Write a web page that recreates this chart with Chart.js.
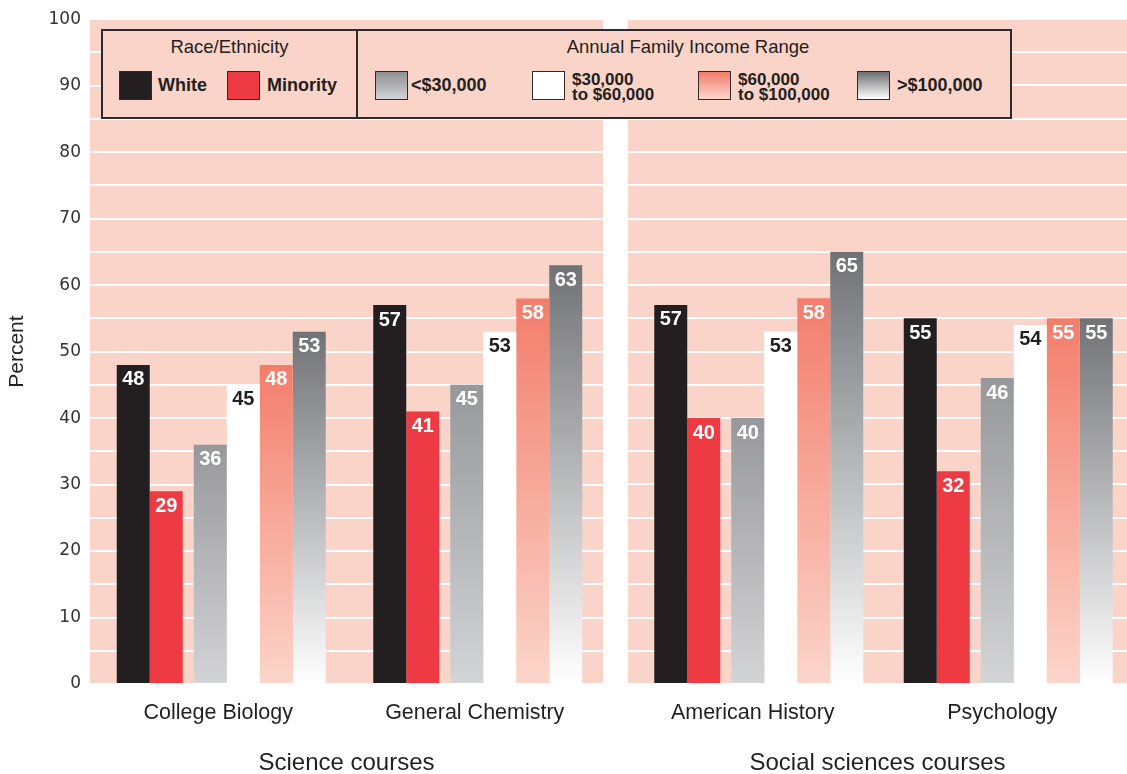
<!DOCTYPE html>
<html>
<head>
<meta charset="utf-8">
<title>Course grades by race and family income</title>
<script src="https://cdn.jsdelivr.net/npm/chart.js"></script>
<style>
  html, body { margin: 0; padding: 0; background: #fff; }
  body { position: relative; width: 1127px; height: 774px; overflow: hidden;
         font-family: "Liberation Sans", Arial, Helvetica, sans-serif; color: #231f20; }
  canvas { position: absolute; top: 0; }
  #left { left: 0; }
  #right { left: 628px; }
  #legend { position: absolute; left: 101px; top: 29px; width: 911px; height: 90px;
            box-sizing: border-box; border: 2px solid #2f2b2c; background: #fad4c9; z-index: 2; }
  #legend .divider { position: absolute; left: 253px; top: 0; bottom: 0; width: 2px; background: #2f2b2c; }
  #legend .head { position: absolute; top: 5px; line-height: 21px; font-size: 18.5px; text-align: center; }
  #legend .sw { position: absolute; top: 40px; width: 33px; height: 29px; box-sizing: border-box;
                border: 1.5px solid #2f2b2c; }
  #legend .txt { position: absolute; top: 44px; line-height: 20px; font-size: 18px; font-weight: bold; white-space: nowrap; }
  #legend .txt2 { position: absolute; top: 41px; line-height: 15px; font-size: 17px; font-weight: bold; white-space: nowrap; }
</style>
</head>
<body>
<canvas id="left" width="603" height="774"></canvas>
<canvas id="right" width="499" height="774"></canvas>

<div id="legend">
  <div class="head" style="left:0;width:253px">Race/Ethnicity</div>
  <div class="divider"></div>
  <div class="head" style="left:255px;width:660px">Annual Family Income Range</div>

  <div class="sw" style="left:16px;background:#231f20"></div>
  <div class="txt" style="left:55px">White</div>
  <div class="sw" style="left:124px;background:#ee3a43"></div>
  <div class="txt" style="left:164px">Minority</div>

  <div class="sw" style="left:272px;background:linear-gradient(#8e8f93,#d3d4d6)"></div>
  <div class="txt" style="left:308px">&lt;$30,000</div>
  <div class="sw" style="left:429px;background:#fff"></div>
  <div class="txt2" style="left:469px">$30,000<br>to $60,000</div>
  <div class="sw" style="left:595px;background:linear-gradient(#f27c6b,#fcd6cb)"></div>
  <div class="txt2" style="left:635px">$60,000<br>to $100,000</div>
  <div class="sw" style="left:754px;background:linear-gradient(#6d6e72,#ffffff)"></div>
  <div class="txt" style="left:794px">&gt;$100,000</div>
</div>

<script>
// ---- data (percent) ----
const courses = ["College Biology", "General Chemistry", "American History", "Psychology"];
const fields = ["Science courses", "Social sciences courses"];

const white = [48, 57, 57, 55];
const minority = [29, 41, 40, 32];
const under30k = [36, 45, 40, 46];
const from30to60k = [45, 53, 53, 54];
const from60to100k = [48, 58, 58, 55];
const over100k = [53, 63, 65, 55];

// ---- look ----
const PINK = "#fad4c9";
const INK = "#231f20";
const FONT = '"Liberation Sans", Arial, Helvetica, sans-serif';
const BAR_W = 33;     // width of one bar, px
const PAIR_GAP = 11;  // space between the race pair and the income bars, px

function barFill(top, bottom) {
  return (ctx) => {
    const chart = ctx.chart;
    if (!chart.chartArea || !ctx.parsed) return top;
    const y = chart.scales.y;
    const g = chart.ctx.createLinearGradient(0, y.getPixelForValue(ctx.parsed.y), 0, y.getPixelForValue(0));
    g.addColorStop(0, top);
    g.addColorStop(1, bottom);
    return g;
  };
}

const series = [
  { label: "White", values: white, fill: INK, text: "#fff" },
  { label: "Minority", values: minority, fill: "#ee3a43", text: "#fff" },
  { label: "<$30,000", values: under30k, fill: barFill("#97989c", "#d3d4d6"), text: "#fff" },
  { label: "$30,000 to $60,000", values: from30to60k, fill: "#fff", text: INK },
  { label: "$60,000 to $100,000", values: from60to100k, fill: barFill("#f37d6b", "#fcd5ca"), text: "#fff" },
  { label: ">$100,000", values: over100k, fill: barFill("#717276", "#ffffff"), text: "#fff" },
];

// grouped bars are spread evenly by Chart.js; per-dataset percentages
// put the race pair and the four income bars apart with a small gap
function slotOptions(k, catW, shift) {
  const left = k * BAR_W + (k > 1 ? PAIR_GAP : 0);
  const groupW = 6 * BAR_W + PAIR_GAP;
  const offset = left + BAR_W / 2 - groupW / 2 + shift;
  const span = offset * 6 / (k - 2.5);
  return { categoryPercentage: span / catW, barPercentage: 6 * BAR_W / span };
}

function datasetsFor(from, catW, shift) {
  return series.map((s, k) => Object.assign({
    label: s.label,
    data: s.values.slice(from, from + 2),
    backgroundColor: s.fill,
    borderWidth: 0,
    labelColor: s.text,
  }, slotOptions(k, catW, shift)));
}

const panelBackground = {
  id: "panelBackground",
  beforeDraw(chart) {
    const { ctx, chartArea: a } = chart;
    ctx.save();
    ctx.fillStyle = PINK;
    ctx.fillRect(a.left, a.top, a.right - a.left, a.bottom - a.top);
    ctx.restore();
  }
};

const barLabels = {
  id: "barLabels",
  afterDatasetsDraw(chart) {
    const ctx = chart.ctx;
    ctx.save();
    ctx.font = "bold 20px " + FONT;
    ctx.textAlign = "center";
    ctx.textBaseline = "middle";
    chart.data.datasets.forEach((ds, i) => {
      chart.getDatasetMeta(i).data.forEach((bar, j) => {
        ctx.fillStyle = ds.labelColor;
        ctx.fillText(ds.data[j], bar.x, bar.y + 15);
      });
    });
    ctx.restore();
  }
};

function makePanel(id, from, withAxis, catW, shift) {
  return new Chart(document.getElementById(id), {
    type: "bar",
    data: { labels: courses.slice(from, from + 2), datasets: datasetsFor(from, catW, shift) },
    options: {
      responsive: false,
      animation: false,
      layout: { padding: { top: 19, left: 0, right: 0, bottom: 0 } },
      plugins: { legend: { display: false }, tooltip: { enabled: false } },
      scales: {
        x: {
          grid: { display: false, drawTicks: false },
          border: { display: false },
          ticks: { color: INK, font: { family: FONT, size: 21.5 }, padding: 16 },
          title: { display: true, text: fields[from / 2], color: INK,
                   font: { family: FONT, size: 24, lineHeight: 0.85 }, padding: 0 },
          afterFit: (s) => { s.height = 90; }
        },
        y: {
          min: 0,
          max: 100,
          grid: { color: "#ffffff", lineWidth: 2, drawTicks: false },
          border: { display: false },
          ticks: {
            display: withAxis,
            stepSize: 5,
            color: "#333",
            padding: 9,
            font: { family: '"DejaVu Sans", sans-serif', size: 17 },
            callback: (v) => (v % 10 === 0 ? v : "")
          },
          title: { display: withAxis, text: "Percent", color: INK,
                   font: { family: FONT, size: 21, lineHeight: 1 }, padding: { top: 7, bottom: 0 } },
          afterFit: (s) => { s.width = withAxis ? 90 : 0; }
        }
      }
    },
    plugins: [panelBackground, barLabels]
  });
}

makePanel("left", 0, true, 513 / 2, 3);
makePanel("right", 2, false, 499 / 2, 6);
</script>
</body>
</html>
